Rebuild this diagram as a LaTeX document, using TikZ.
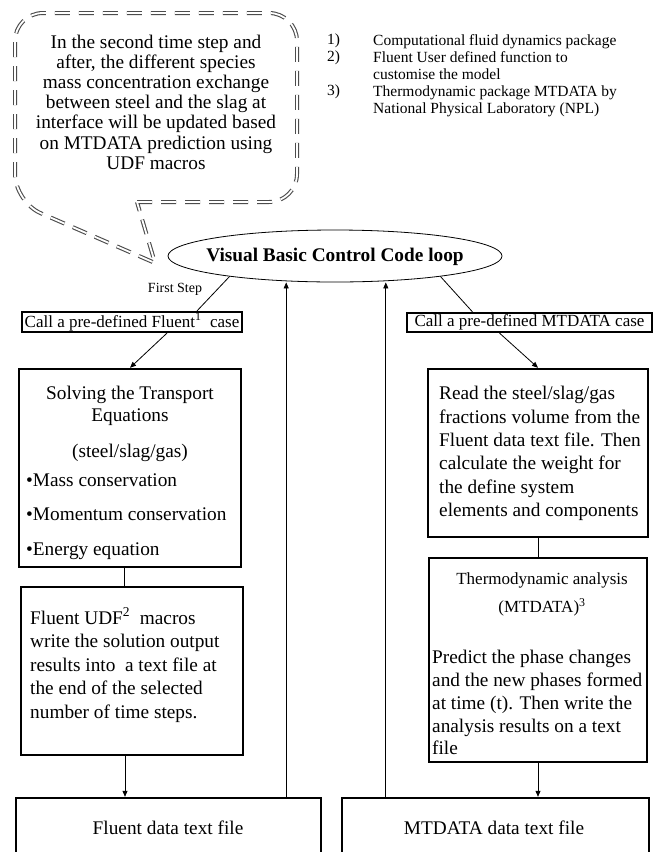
\documentclass[tikz,border=0pt]{standalone}
\usepackage{fontspec}
\setmainfont{Liberation Serif}
\usetikzlibrary{shapes,arrows.meta,positioning,calc}

\newcommand{\bigtext}{\fontsize{19.3pt}{23.5pt}\selectfont}
\newcommand{\calltext}{\fontsize{17pt}{20pt}\selectfont}
\newcommand{\notetext}{\fontsize{15.5pt}{17pt}\selectfont}

\tikzset{
  stepbox/.style={draw, line width=2.4pt, inner sep=0pt},
  callbox/.style={draw, line width=2.2pt, inner sep=0pt, font=\calltext},
  link/.style={line width=0.8pt},
  flow/.style={link, -{Triangle[length=6pt,width=5pt]}},
  bubble/.style={draw=black!70, line width=1.1pt, double, double distance=1.8pt, dash pattern=on 15pt off 9pt},
}

\begin{document}
\begin{tikzpicture}[x=1pt, y=-1pt]
    \useasboundingbox (0,0) rectangle (656,852);
    \clip (0,0) rectangle (656,852);

    % Comment bubble
    \node[font=\fontsize{19.3pt}{20.2pt}\selectfont, align=center] (note) at (156,102)
        {In the second time step and\\after, the different species\\mass concentration exchange\\between steel and the slag at\\interface will be updated based\\on MTDATA prediction using\\UDF macros};
    \draw[bubble] (137,202) [rounded corners=28pt] -- (297,202) -- (297,13) -- (15,13) -- (15,202) [sharp corners] -- (155,263) -- cycle;

    % Footnotes
    \node[font=\notetext, anchor=north west, align=left, inner sep=0pt] (notenum) at (327,34) {1)\\2)\\[17pt]3)};
    \node[font=\notetext, anchor=north west, align=left, inner sep=0pt] (notelist) at (373,34)
        {Computational fluid dynamics package\\Fluent User defined function to\\customise the model\\Thermodynamic package MTDATA by\\National Physical Laboratory (NPL)};

    % Control loop
    \node[ellipse, draw, line width=0.8pt, minimum width=334pt, minimum height=52pt, inner sep=0pt] (loop) at (335,256) {};
    \node[font=\bigtext\bfseries] (looptext) at (335,257) {Visual Basic Control Code loop};
    \node[font=\fontsize{14pt}{16pt}\selectfont] (firststep) at (175,289) {First Step};

    % Fluent side
    \node[callbox, minimum width=220pt, minimum height=20pt] (callF) at (132,322) {Call a pre-defined Fluent\textsuperscript{1} \ case};
    \node[stepbox, minimum width=222pt, minimum height=198pt] (solve) at (130,468) {};
    \node[font=\fontsize{19.3pt}{22pt}\selectfont, align=center] (solvetitle) at (130,406) {Solving the Transport\\Equations};
    \node[font=\bigtext] (solvephase) at (130,453) {(steel/slag/gas)};
    \node[font=\fontsize{19.3pt}{34.5pt}\selectfont, align=left, anchor=west, inner sep=0pt] (solvelist) at (26,516.5)
        {•Mass conservation\\•Momentum conservation\\•Energy equation};
    \node[stepbox, minimum width=222pt, minimum height=168pt] (udf) at (132,671) {};
    \node[font=\bigtext, align=left, anchor=west, inner sep=0pt] (udftext) at (30,665)
        {Fluent UDF\textsuperscript{2} \ macros\\write the solution output\\results into \ a text file at\\the end of the selected\\number of time steps.};
    \node[stepbox, minimum width=305pt, minimum height=102pt] (fluentfile) at (168.5,849) {};
    \node[font=\bigtext] (fluenttext) at (168,828) {Fluent data text file};

    % MTDATA side
    \node[callbox, minimum width=245pt, minimum height=19pt] (callM) at (529.5,322.5) {Call a pre-defined MTDATA case};
    \node[stepbox, minimum width=220pt, minimum height=168pt] (read) at (538,453) {};
    \node[font=\fontsize{19.3pt}{23.4pt}\selectfont, align=left, anchor=west, inner sep=0pt] (readtext) at (439,453.5)
        {Read the steel/slag/gas\\fractions volume from the\\Fluent data text file. Then\\calculate the weight for\\the define system\\elements and components};
    \node[stepbox, minimum width=218pt, minimum height=204pt] (thermo) at (538,660) {};
    \node[font=\calltext] (thermotitle) at (542,580) {Thermodynamic analysis};
    \node[font=\calltext] (thermosub) at (542,607) {(MTDATA)\textsuperscript{3}};
    \node[font=\fontsize{19.3pt}{22.9pt}\selectfont, align=left, anchor=west, inner sep=0pt] (thermotext) at (432,702.5)
        {Predict the phase changes\\and the new phases formed\\at time (t). Then write the\\analysis results on a text\\file};
    \node[stepbox, minimum width=307pt, minimum height=102pt] (mtfile) at (495.5,849) {};
    \node[font=\bigtext] (mttext) at (494,828) {MTDATA data text file};

    % Connectors
    \draw[link] (loop.191) -- ([xshift=65pt]callF.north);
    \draw[link] (loop.349) -- ([xshift=-57pt]callM.north);
    \draw[flow] ([xshift=35pt]callF.south) -- (solve.north);
    \draw[flow] ([xshift=-30pt]callM.south) -- (read.north);
    \draw[link] ([xshift=-6pt]solve.south) -- ([xshift=-6pt]solve.south |- udf.north);
    \draw[flow] ([xshift=-7pt]udf.south) -- ([xshift=-7pt]udf.south |- fluentfile.north);
    \draw[link] (read.south) -- (thermo.north);
    \draw[flow] (thermo.south) -- (thermo.south |- mtfile.north);
    \draw[flow] ([xshift=-36pt]fluentfile.north east) -- ([xshift=-36pt]fluentfile.north east |- loop.south);
    \draw[flow] ([xshift=45pt]mtfile.north west) -- ([xshift=45pt]mtfile.north west |- loop.south);
\end{tikzpicture}
\end{document}
